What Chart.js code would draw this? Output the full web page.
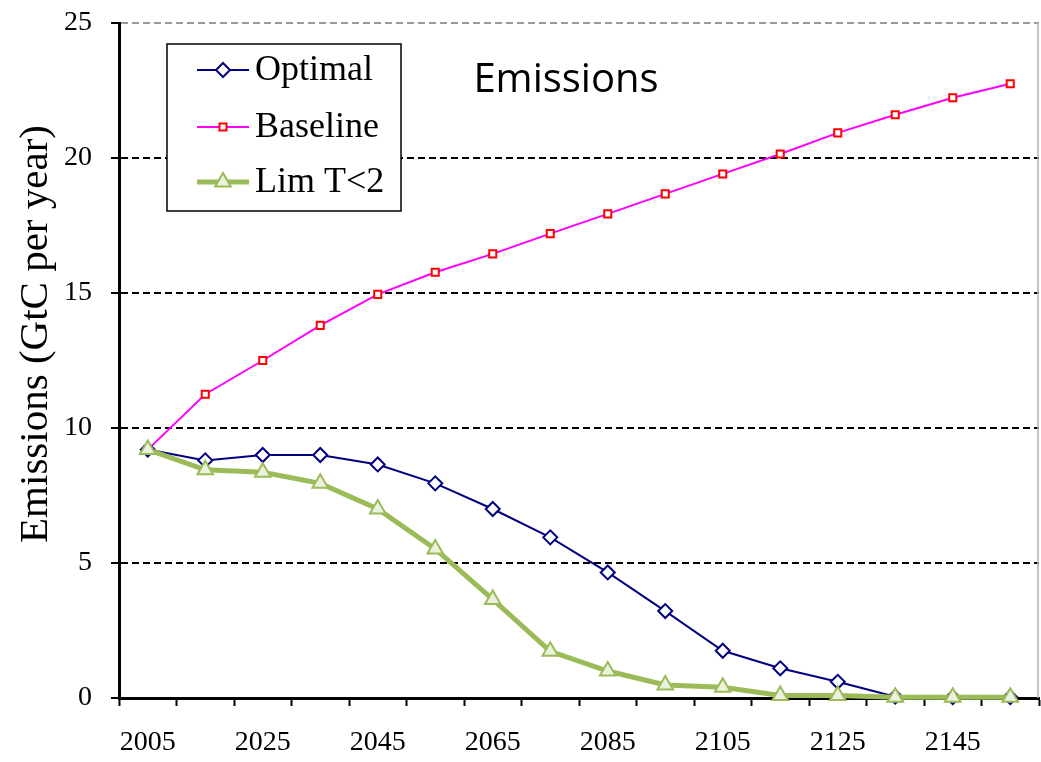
<!DOCTYPE html>
<html>
<head>
<meta charset="utf-8">
<script src="https://cdn.jsdelivr.net/npm/chart.js@4.4.1/dist/chart.umd.min.js"></script>
<style>
    body { margin: 0; background: #fff; }
    #wrap { width: 1041px; height: 762px; position: relative; }
</style>
</head>
<body>
<div id="wrap"><canvas id="emisiChart" width="1041" height="762"></canvas></div>
<script>
const years = ["2005", "2015", "2025", "2035", "2045", "2055", "2065", "2075",
    "2085", "2095", "2105", "2115", "2125", "2135", "2145", "2155"];
const optimal = [9.2, 8.8, 9.0, 9.0, 8.65, 7.95, 7.0, 5.95, 4.65, 3.22, 1.75, 1.1, 0.6, 0.05, 0.03, 0.03];
const baseline = [9.2, 11.25, 12.5, 13.8, 14.95, 15.77, 16.45, 17.2, 17.93, 18.67, 19.41, 20.15, 20.93, 21.6, 22.23, 22.75];
const limT2 = [9.2, 8.45, 8.36, 7.95, 7.0, 5.52, 3.65, 1.73, 1.0, 0.48, 0.4, 0.09, 0.09, 0.03, 0.03, 0.03];
const yTicks = [0, 5, 10, 15, 20, 25];

const serif = "'Liberation Serif', 'Times New Roman', serif";

function marker(ctx, style, x, y, r, fill, stroke, lw) {
    ctx.save();
    ctx.beginPath();
    if (style === "rectRot") {
        ctx.moveTo(x, y - r); ctx.lineTo(x + r, y); ctx.lineTo(x, y + r); ctx.lineTo(x - r, y);
    } else if (style === "rect") {
        const s = r * Math.SQRT1_2;
        ctx.rect(x - s, y - s, 2 * s, 2 * s);
    } else {
        const w = r * Math.sqrt(3) / 2;
        ctx.moveTo(x, y - r); ctx.lineTo(x + w, y + r / 2); ctx.lineTo(x - w, y + r / 2);
    }
    ctx.closePath();
    ctx.fillStyle = fill; ctx.fill();
    ctx.lineWidth = lw; ctx.strokeStyle = stroke; ctx.stroke();
    ctx.restore();
}

const extras = {
    id: "extras",
    beforeDatasetsDraw(chart) {
        const ctx = chart.ctx, a = chart.chartArea;
        ctx.save();
        ctx.strokeStyle = "#b0b0b0";
        ctx.lineWidth = 1.5;
        ctx.beginPath();
        ctx.moveTo(a.right - 1, a.top); ctx.lineTo(a.right - 1, a.bottom);
        ctx.stroke();
        ctx.restore();
    },
    afterDraw(chart) {
        const ctx = chart.ctx;
        ctx.save();
        // judul di dalam area plot
        ctx.fillStyle = "#000";
        ctx.font = "40px 'Open Sans'";
        ctx.textAlign = "center";
        ctx.textBaseline = "alphabetic";
        ctx.fillText("Emissions", 566, 92);

        // judul sumbu y
        ctx.save();
        ctx.translate(36, 334);
        ctx.rotate(-Math.PI / 2);
        ctx.font = "41px " + serif;
        ctx.textBaseline = "middle";
        ctx.fillText("Emissions (GtC per year)", 0, 0);
        ctx.restore();

        // legenda
        ctx.fillStyle = "#fff";
        ctx.fillRect(167, 44, 234, 167);
        ctx.strokeStyle = "#000";
        ctx.lineWidth = 1.5;
        ctx.strokeRect(167, 44, 234, 167);
        const rows = [70, 127, 182];
        chart.data.datasets.forEach((ds, i) => {
            const y = rows[i];
            ctx.strokeStyle = ds.borderColor;
            ctx.lineWidth = ds.borderWidth;
            ctx.beginPath();
            ctx.moveTo(197, y); ctx.lineTo(249, y);
            ctx.stroke();
            marker(ctx, ds.pointStyle, 223, y, ds.pointRadius, ds.pointBackgroundColor, ds.pointBorderColor, ds.pointBorderWidth);
            ctx.fillStyle = "#000";
            ctx.font = "36px " + serif;
            ctx.textAlign = "left";
            ctx.textBaseline = "middle";
            ctx.fillText(ds.label, 255, y + 1);
        });
        ctx.restore();
    }
};

document.addEventListener("DOMContentLoaded", function () {
    const area = document.getElementById("emisiChart");
    new Chart(area.getContext("2d"), {
        type: "line",
        data: {
            labels: years,
            datasets: [
                {
                    label: "Optimal",
                    data: optimal,
                    borderColor: "#000080",
                    borderWidth: 2,
                    pointStyle: "rectRot",
                    pointRadius: 7,
                    pointBorderWidth: 2,
                    pointBorderColor: "#000080",
                    pointBackgroundColor: "#ffffff",
                    order: 1,
                    clip: false,
                },
                {
                    label: "Baseline",
                    data: baseline,
                    borderColor: "#ff00ff",
                    borderWidth: 2,
                    pointStyle: "rect",
                    pointRadius: 5,
                    pointBorderWidth: 2,
                    pointBorderColor: "#ff0000",
                    pointBackgroundColor: "#ffffff",
                    order: 2,
                    clip: false,
                },
                {
                    label: "Lim T<2",
                    data: limT2,
                    borderColor: "#9bbb59",
                    borderWidth: 5,
                    pointStyle: "triangle",
                    pointRadius: 9,
                    pointBorderWidth: 2,
                    pointBorderColor: "#9bbb59",
                    pointBackgroundColor: "#ebf1de",
                    order: 0,
                    clip: false,
                },
            ],
        },
        options: {
            responsive: false,
            animation: false,
            layout: { autoPadding: false, padding: { top: 23, right: 2, left: 0, bottom: 0 } },
            plugins: {
                legend: { display: false },
                tooltip: { enabled: false },
            },
            elements: { line: { tension: 0 } },
            scales: {
                x: {
                    type: "category",
                    offset: true,
                    afterFit: (s) => { s.height = 64; s.paddingLeft = 0; s.paddingRight = 0; },
                    grid: {
                        offset: true,
                        drawOnChartArea: false,
                        tickLength: 8,
                        tickWidth: 2,
                        tickColor: "#000",
                    },
                    border: { color: "#000", width: 3 },
                    ticks: {
                        autoSkip: false,
                        maxRotation: 0,
                        padding: 20,
                        color: "#000",
                        font: { family: serif, size: 28 },
                        callback: (v, i) => (i % 2 === 0 ? years[i] : ""),
                    },
                },
                y: {
                    min: 0,
                    max: 25,
                    afterFit: (s) => { s.width = 119; s.paddingTop = 0; s.paddingBottom = 0; },
                    afterBuildTicks: (s) => { s.ticks = yTicks.map((v) => ({ value: v })); },
                    grid: {
                        color: (c) => (c.tick && c.tick.value === 0 ? "rgba(0,0,0,0)" : c.tick && c.tick.value === 25 ? "#999" : "#000"),
                        lineWidth: 2,
                        tickLength: 8,
                        tickWidth: 2,
                        tickColor: "#000",
                        tickBorderDash: [],
                    },
                    border: { color: "#000", width: 3, dash: [7, 4] },
                    ticks: {
                        padding: 19,
                        color: "#000",
                        font: { family: serif, size: 28 },
                    },
                },
            },
        },
        plugins: [extras],
    });
});
</script>
</body>
</html>
